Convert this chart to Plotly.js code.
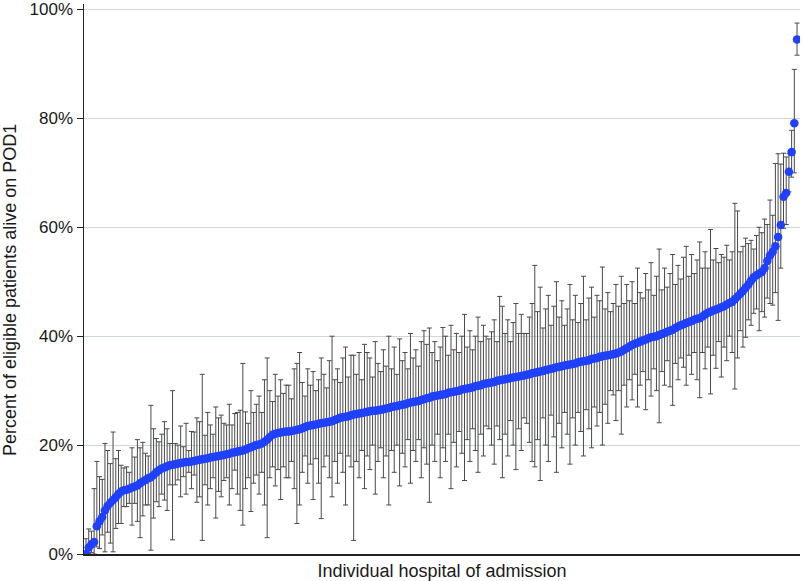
<!DOCTYPE html>
<html>
<head>
<meta charset="utf-8">
<script src="https://cdn.plot.ly/plotly-3.0.1.min.js"></script>
<style>
  html, body { margin: 0; padding: 0; background: #fff; }
  #chart { width: 803px; height: 581px; }
</style>
</head>
<body>
<div id="chart"></div>
<script>
// Percent of eligible patients alive on POD1, per hospital (sorted)
var pctAlive = [
  0.0, 1.2, 1.8, 2.2, 5.1, 6.0, 6.8, 8.0, 8.8, 9.4,
  9.9, 10.4, 11.0, 11.5, 11.7, 11.8, 12.0, 12.2, 12.4, 12.6,
  13.0, 13.3, 13.6, 13.9, 14.1, 14.5, 15.0, 15.4, 15.7, 15.9,
  16.1, 16.3, 16.4, 16.5, 16.6, 16.7, 16.8, 16.9, 16.9, 17.0,
  17.1, 17.2, 17.3, 17.4, 17.5, 17.6, 17.7, 17.8, 17.9, 18.0,
  18.1, 18.2, 18.3, 18.4, 18.6, 18.7, 18.8, 18.9, 19.0, 19.2,
  19.4, 19.6, 19.8, 20.0, 20.1, 20.3, 20.6, 21.0, 21.5, 21.9,
  22.1, 22.2, 22.3, 22.4, 22.5, 22.5, 22.6, 22.7, 22.8, 22.9,
  23.1, 23.3, 23.5, 23.6, 23.7, 23.8, 23.9, 24.0, 24.1, 24.2,
  24.3, 24.4, 24.6, 24.8, 25.0, 25.1, 25.2, 25.3, 25.5, 25.6,
  25.7, 25.8, 25.9, 26.0, 26.1, 26.2, 26.3, 26.3, 26.4, 26.5,
  26.6, 26.7, 26.8, 27.0, 27.1, 27.2, 27.3, 27.4, 27.5, 27.7,
  27.8, 27.9, 28.0, 28.1, 28.3, 28.4, 28.6, 28.7, 28.9, 29.0,
  29.1, 29.2, 29.3, 29.4, 29.6, 29.7, 29.8, 29.9, 30.0, 30.2,
  30.3, 30.4, 30.5, 30.6, 30.8, 30.9, 31.0, 31.2, 31.3, 31.4,
  31.5, 31.6, 31.8, 31.9, 32.0, 32.1, 32.2, 32.3, 32.4, 32.5,
  32.6, 32.7, 32.8, 32.9, 33.0, 33.2, 33.3, 33.4, 33.5, 33.6,
  33.8, 33.9, 34.0, 34.1, 34.3, 34.4, 34.5, 34.6, 34.7, 34.8,
  34.9, 35.0, 35.2, 35.3, 35.4, 35.5, 35.6, 35.8, 35.9, 36.0,
  36.2, 36.3, 36.4, 36.5, 36.6, 36.7, 36.8, 37.0, 37.2, 37.5,
  37.8, 38.1, 38.4, 38.6, 38.8, 39.0, 39.2, 39.4, 39.6, 39.8,
  39.9, 40.0, 40.2, 40.4, 40.6, 40.8, 41.0, 41.2, 41.5, 41.8,
  42.0, 42.2, 42.4, 42.6, 42.8, 43.0, 43.2, 43.3, 43.6, 44.0,
  44.3, 44.5, 44.7, 44.9, 45.1, 45.3, 45.5, 45.8, 46.1, 46.3,
  46.8, 47.3, 47.8, 48.3, 48.9, 49.5, 50.2, 50.8, 51.2, 51.5,
  51.8, 52.5, 53.8, 54.8, 55.5, 56.5, 58.2, 60.4, 65.6, 66.3,
  70.2, 73.8, 79.1, 94.5
];

// Lower 95% confidence limits
var ciLower = [
  0.0, 0.1, 0.3, 0.0, 1.3, 1.0, 3.5, 0.4, 4.0, 2.0,
  0.4, 4.7, 5.6, 5.6, 8.7, 8.7, 9.3, 5.3, 9.3, 6.0,
  3.0, 7.0, 9.0, 9.0, 0.7, 6.6, 9.6, 8.7, 11.0, 9.9,
  8.0, 12.7, 2.6, 12.7, 13.6, 10.5, 14.2, 11.0, 15.0, 12.0,
  14.5, 9.5, 10.5, 2.5, 12.7, 9.0, 12.0, 14.0, 6.6, 11.5,
  10.5, 13.5, 14.0, 9.0, 12.0, 15.4, 11.0, 8.0, 5.3, 12.0,
  14.0, 7.8, 13.0, 14.5, 11.0, 15.0, 9.0, 3.0, 14.0, 16.0,
  12.5, 15.5, 10.0, 16.0, 14.0, 14.0, 17.0, 12.0, 5.6, 9.0,
  15.0, 18.0, 13.0, 16.5, 10.0, 17.5, 13.0, 6.5, 16.0, 18.0,
  14.0, 10.5, 17.0, 13.0, 18.5, 15.0, 9.0, 18.0, 16.0, 2.5,
  17.0, 14.0, 19.0, 12.0, 18.0, 15.5, 20.0, 11.0, 17.0, 19.5,
  14.0, 18.0, 9.0, 19.0, 15.0, 20.0, 12.5, 18.5, 16.0, 21.0,
  13.0, 19.0, 17.0, 21.0, 14.0, 19.5, 16.5, 9.5, 20.0, 17.0,
  22.0, 14.0, 19.5, 17.0, 22.0, 12.0, 20.5, 16.0, 22.5, 18.5,
  13.5, 21.0, 17.0, 23.0, 19.0, 15.0, 22.0, 18.0, 23.5, 23.0,
  20.0, 16.5, 23.5, 21.0, 14.0, 22.0, 18.0, 24.5, 20.0, 15.5,
  23.0, 19.0, 25.0, 24.0, 20.5, 17.0, 16.0, 21.0, 13.5, 25.0,
  20.0, 17.0, 25.5, 21.5, 15.0, 24.0, 19.5, 26.0, 22.0, 16.5,
  25.0, 20.0, 26.0, 22.5, 18.0, 26.5, 23.0, 19.5, 27.0, 23.5,
  26.0, 20.0, 27.5, 24.0, 30.0, 29.2, 24.5, 30.0, 22.0, 31.0,
  27.0, 32.0, 28.3, 33.0, 27.0, 31.0, 33.5, 26.5, 32.0, 29.0,
  34.0, 30.0, 24.1, 33.5, 31.0, 35.5, 30.7, 27.3, 35.0, 32.0,
  36.0, 34.3, 31.0, 36.5, 33.0, 37.0, 32.0, 28.7, 37.0, 34.0,
  38.0, 29.4, 36.5, 34.1, 39.0, 32.5, 38.0, 35.5, 40.0, 37.0,
  30.3, 36.0, 41.0, 38.0, 39.8, 43.0, 42.0, 44.2, 45.0, 41.0,
  44.5, 43.5, 47.0, 46.0, 45.7, 48.0, 42.9, 52.5, 59.8, 60.5,
  66.5, 69.2, 70.0, 91.6
];

// Upper 95% confidence limits
var ciUpper = [
  2.8, 4.6, 4.2, 12.0, 17.0, 14.2, 13.7, 20.3, 19.0, 16.6,
  22.4, 17.5, 19.0, 16.3, 15.8, 16.0, 15.0, 19.5, 17.8, 21.0,
  19.5, 20.5, 18.5, 18.0, 27.3, 23.0, 21.2, 20.6, 22.0, 24.3,
  23.0, 20.3, 30.0, 20.3, 20.0, 23.5, 19.7, 24.0, 19.0, 22.5,
  22.4, 25.0, 24.3, 33.0, 21.8, 26.0, 23.7, 22.0, 27.0, 25.0,
  25.5, 24.0, 23.7, 27.5, 23.7, 25.8, 26.0, 26.4, 35.0, 26.1,
  24.0, 30.0, 26.0, 27.5, 29.0, 26.0, 32.0, 36.0, 30.0, 28.0,
  33.0, 29.0, 32.0, 29.5, 31.0, 31.0, 28.5, 34.0, 35.0, 37.0,
  31.5, 29.0, 34.0, 31.0, 33.5, 30.0, 32.0, 36.0, 33.0, 30.5,
  35.5, 40.0, 32.0, 34.0, 31.5, 36.0, 38.0, 32.5, 36.5, 36.5,
  33.0, 37.0, 32.0, 38.5, 37.0, 36.0, 32.5, 39.0, 35.0, 33.5,
  37.5, 34.5, 40.0, 34.0, 38.0, 33.0, 39.5, 35.5, 37.0, 34.0,
  40.5, 36.0, 37.5, 34.5, 39.0, 41.0, 38.5, 41.5, 37.0, 39.0,
  35.5, 38.0, 41.6, 40.0, 36.5, 42.0, 37.5, 40.5, 37.0, 40.0,
  44.0, 38.0, 41.0, 37.5, 40.0, 43.5, 39.0, 42.0, 40.0, 39.5,
  40.8, 43.0, 39.0, 47.3, 45.5, 40.5, 43.0, 39.0, 42.5, 46.0,
  40.5, 44.0, 40.5, 40.5, 43.5, 46.0, 53.0, 44.5, 49.0, 41.5,
  45.0, 47.5, 42.0, 45.5, 50.0, 43.5, 46.5, 42.0, 45.0, 49.5,
  43.0, 47.5, 42.5, 46.0, 51.0, 43.0, 47.0, 49.0, 43.5, 47.5,
  46.5, 52.7, 45.0, 48.0, 44.5, 46.0, 49.5, 45.5, 51.0, 46.0,
  49.5, 46.5, 50.0, 46.0, 52.5, 48.0, 47.0, 51.5, 48.5, 53.5,
  47.5, 51.0, 56.0, 48.5, 52.5, 49.0, 51.5, 55.0, 49.5, 53.0,
  50.5, 54.5, 56.5, 51.0, 55.0, 51.5, 54.0, 57.3, 52.5, 55.5,
  52.5, 59.6, 54.0, 56.1, 53.5, 55.0, 54.5, 56.7, 54.0, 55.5,
  64.4, 63.0, 55.5, 56.5, 58.0, 57.0, 57.6, 56.0, 58.5, 60.0,
  59.0, 61.5, 60.5, 65.0, 62.2, 71.7, 73.5, 71.6, 73.6, 72.9,
  73.5, 77.8, 89.0, 97.5
];

var yTickVals = [0, 20, 40, 60, 80, 100];
var yTickText = ['0%', '20%', '40%', '60%', '80%', '100%'];
var yTitle = 'Percent of eligible patients alive on POD1';
var xTitle = 'Individual hospital of admission';

var hospitalRank = pctAlive.map(function (_, i) { return i + 1; });
var errPlus = pctAlive.map(function (v, i) { return ciUpper[i] - v; });
var errMinus = pctAlive.map(function (v, i) { return v - ciLower[i]; });

var trace = {
  type: 'scatter',
  mode: 'markers',
  x: hospitalRank,
  y: pctAlive,
  marker: { color: '#1f40ff', size: 8.5, line: { width: 0 } },
  error_y: {
    type: 'data',
    symmetric: false,
    array: errPlus,
    arrayminus: errMinus,
    color: '#4a4a4a',
    thickness: 1,
    width: 2.5
  },
  hoverinfo: 'skip'
};

var N = pctAlive.length;
var layout = {
  width: 803,
  height: 581,
  margin: { l: 84, r: 3, t: 4, b: 27 },
  paper_bgcolor: '#ffffff',
  plot_bgcolor: '#ffffff',
  showlegend: false,
  font: { family: 'Liberation Sans, Arial, sans-serif', color: '#1a1a1a' },
  xaxis: {
    range: [1 - 0.75, N + 1.1],
    showgrid: false,
    zeroline: false,
    showticklabels: false,
    ticks: '',
    showline: true,
    linecolor: '#222222',
    linewidth: 2,
    title: { text: xTitle, font: { size: 18, color: '#1a1a1a' }, standoff: 9 }
  },
  yaxis: {
    range: [0, 101],
    tickvals: yTickVals,
    ticktext: yTickText,
    tickfont: { size: 17, color: '#1a1a1a' },
    ticks: 'outside',
    ticklen: 6,
    tickcolor: '#222222',
    tickwidth: 1,
    showline: true,
    linecolor: '#222222',
    linewidth: 1.5,
    showgrid: true,
    gridcolor: '#cdd8d8',
    gridwidth: 1,
    zeroline: false
  },
  annotations: [{
    text: yTitle,
    textangle: -90,
    xref: 'paper', yref: 'paper',
    x: 0, y: (554 - 290) / 550,
    xanchor: 'center', yanchor: 'middle',
    xshift: -74,
    showarrow: false,
    font: { size: 18, color: '#1a1a1a' }
  }]
};

Plotly.newPlot('chart', [trace], layout, { displayModeBar: false, staticPlot: true });
</script>
</body>
</html>
